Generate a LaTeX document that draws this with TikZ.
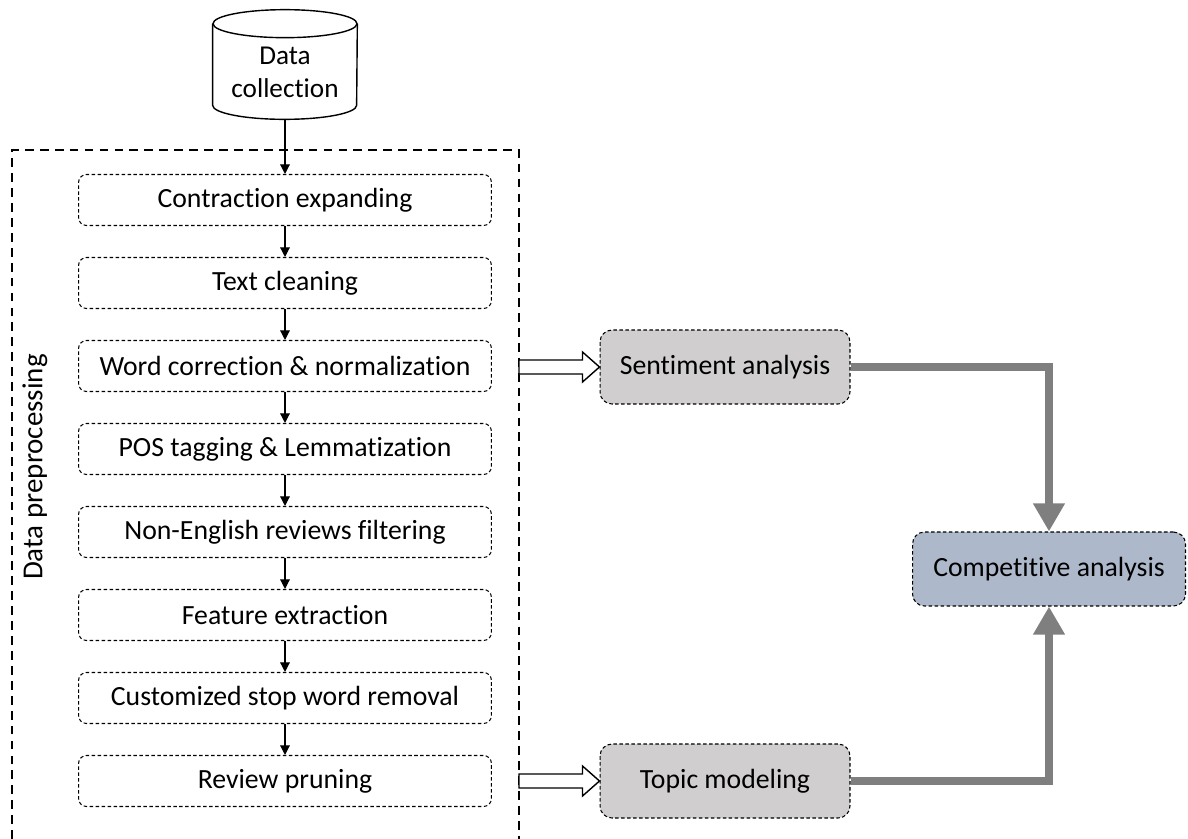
\documentclass[tikz,border=0pt]{standalone}
\usepackage{fontspec}
\setmainfont{Carlito}[Ligatures={NoCommon}]
\usetikzlibrary{arrows.meta,calc}

\definecolor{boxgray}{HTML}{D0CECE}
\definecolor{boxblue}{HTML}{ADB9CA}
\definecolor{linkgray}{HTML}{7F7F7F}

\tikzset{
  stepbox/.style={draw, rounded corners=0.16cm, dash pattern=on 2pt off 1.4pt,
    line width=0.6pt, minimum width=8.26cm, minimum height=1.02cm,
    font=\fontsize{15.8}{19}\selectfont},
  taskbox/.style={stepbox, fill=boxgray, rounded corners=0.24cm,
    minimum width=5cm, minimum height=1.48cm},
  flow/.style={-{Triangle[length=5.5pt,width=5.5pt]}, line width=0.7pt},
  graylink/.style={draw=linkgray, line width=5.1pt,
    -{Triangle[length=0.56cm,width=0.6cm]}},
}

% open block arrow from the preprocessing frame to a task
\newcommand{\hollowarrow}[2]{%
  \draw[line width=0.8pt, fill=white]
    ($(#1 |- #2)+(0,7)$) -- ($(#2)+(-17,7)$) -- ($(#2)+(-17,15)$) -- (#2)
    -- ($(#2)+(-17,-15)$) -- ($(#2)+(-17,-7)$) -- ($(#1 |- #2)+(0,-7)$) -- cycle;}

\begin{document}
\begin{tikzpicture}[x=0.02cm, y=-0.02cm]
    \useasboundingbox (0,0) rectangle (1188,839);

    % source
    \node[minimum height=2.18cm, minimum width=2.88cm,
      label={[align=center, font=\fontsize{15.5}{19}\selectfont, yshift=-0.16cm]center:Data\\collection}]
      (data) at (285,64.5) {};
    \draw[line width=0.8pt]
      ($(data.north west)+(0,14)$) -- ($(data.south west)+(0,-14)$)
      arc[start angle=180, end angle=360, x radius=1.44cm, y radius=0.28cm]
      -- ($(data.north east)+(0,14)$);
    \draw[line width=0.8pt] ($(data.north)+(0,14)$) ellipse [x radius=1.44cm, y radius=0.28cm];

    % data preprocessing frame
    \draw[line width=1.1pt, dash pattern=on 5pt off 3.5pt]
      (12,839) -- (12,150) -- (519,150) -- (519,839);
    \coordinate (pre-e) at (519,150);
    \node[rotate=90, font=\fontsize{16.5}{20}\selectfont] (prelabel) at (35,467) {Data preprocessing};

    % preprocessing steps
    \node[stepbox] (expand) at (285,200) {Contraction expanding};
    \node[stepbox] (clean) at (285,283) {Text cleaning};
    \node[stepbox] (correct) at (285,366) {Word correction \& normalization};
    \node[stepbox] (pos) at (285,449) {POS tagging \& Lemmatization};
    \node[stepbox] (nonen) at (285,532) {Non-English reviews filtering};
    \node[stepbox] (feature) at (285,615) {Feature extraction};
    \node[stepbox] (stopword) at (285,698) {Customized stop word removal};
    \node[stepbox] (prune) at (285,781) {Review pruning};

    \draw[flow] (data.south) -- (expand.north);
    \draw[flow] (expand) -- (clean);
    \draw[flow] (clean) -- (correct);
    \draw[flow] (correct) -- (pos);
    \draw[flow] (pos) -- (nonen);
    \draw[flow] (nonen) -- (feature);
    \draw[flow] (feature) -- (stopword);
    \draw[flow] (stopword) -- (prune);

    % analysis tasks
    \node[taskbox] (sentiment) at (725,367) {Sentiment analysis};
    \node[taskbox] (topic) at (725,781) {Topic modeling};
    \node[taskbox, fill=boxblue, minimum width=5.46cm] (compete) at (1049,569) {Competitive analysis};

    \hollowarrow{pre-e}{sentiment.west}
    \hollowarrow{pre-e}{topic.west}

    \draw[graylink] (sentiment.east) -| (compete.north);
    \draw[graylink] (topic.east) -| (compete.south);
\end{tikzpicture}
\end{document}
